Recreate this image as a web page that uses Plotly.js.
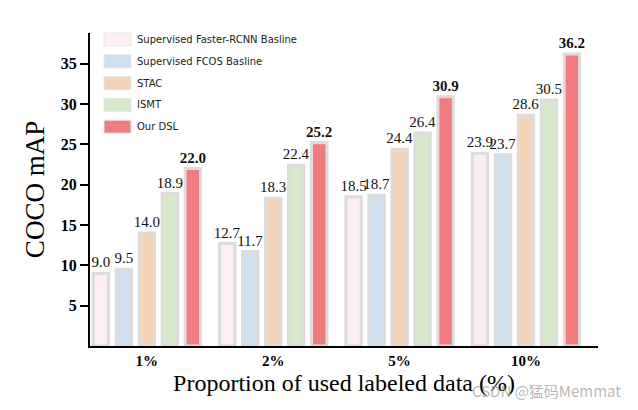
<!DOCTYPE html>
<html>
<head>
<meta charset="utf-8">
<script src="https://cdn.plot.ly/plotly-3.0.1.min.js"></script>
<style>html,body{margin:0;padding:0;background:#fff;}</style>
</head>
<body>
<div id="chart" style="width:638px;height:410px;"></div>
<script>
// ---- data ----
const categories = ['1%', '2%', '5%', '10%'];
const seriesNames = ['Supervised Faster-RCNN Basline', 'Supervised FCOS Basline', 'STAC', 'ISMT', 'Our DSL'];
const fasterRcnn = [9.0, 12.7, 18.5, 23.9];
const fcos = [9.5, 11.7, 18.7, 23.7];
const stac = [14.0, 18.3, 24.4, 28.6];
const ismt = [18.9, 22.4, 26.4, 30.5];
const dsl = [22.0, 25.2, 30.9, 36.2];
const yTickVals = [5, 10, 15, 20, 25, 30, 35];

// ---- styles ----
const seriesValues = [fasterRcnn, fcos, stac, ismt, dsl];
const colors = ['#fdeef4', '#cfdff0', '#f4d3b6', '#d6e7ca', '#f07c80'];
const serif = 'Liberation Serif, Times New Roman, serif';

const traces = seriesValues.map((vals, i) => ({
  type: 'bar',
  name: seriesNames[i],
  x: categories,
  y: vals,
  text: vals.map(v => v.toFixed(1)),
  textposition: 'outside',
  constraintext: 'none',
  cliponaxis: false,
  textfont: {family: serif, size: 15, color: '#111', weight: i === 4 ? 'bold' : 'normal'},
  marker: {color: colors[i], line: {color: '#dcdcdc', width: 3}},
  hoverinfo: 'none'
}));

// custom legend (patches + labels) in paper coords
const px = p => (p - 90) / 508;
const py = p => (346 - p) / 313;
const shapes = [];
const annotations = [];
seriesNames.forEach((n, i) => {
  const cy = 39.5 + i * 21.8;
  shapes.push({type: 'rect', xref: 'paper', yref: 'paper',
    x0: px(104), x1: px(131), y0: py(cy + 6.5), y1: py(cy - 6.5),
    fillcolor: colors[i], line: {color: '#e6e6e6', width: 1}});
  annotations.push({xref: 'paper', yref: 'paper', x: px(135), y: py(cy),
    xanchor: 'left', yanchor: 'middle', showarrow: false, text: n,
    font: {family: 'DejaVu Sans, Verdana, sans-serif', size: 10, color: '#222'}});
});
annotations.push({xref: 'paper', yref: 'paper', x: px(623), y: py(390),
  xanchor: 'right', yanchor: 'middle', showarrow: false, text: 'CSDN @猛码Memmat',
  font: {family: 'Noto Sans CJK SC, sans-serif', size: 15, color: 'rgba(160,160,160,0.75)'}});

const layout = {
  width: 638, height: 410,
  margin: {l: 90, r: 40, t: 33, b: 64},
  paper_bgcolor: '#fff', plot_bgcolor: '#fff',
  barmode: 'group', bargap: 0.09, bargroupgap: 0.33,
  showlegend: false,
  xaxis: {
    type: 'category', range: [-0.45, 3.57],
    showline: true, linecolor: '#000', linewidth: 2, ticks: '',
    showgrid: false, zeroline: false, layer: 'below traces',
    tickfont: {family: serif, size: 15, color: '#000', weight: 'bold'},
    title: {text: 'Proportion of used labeled data (%)', font: {family: serif, size: 24, color: '#000'}, standoff: 6}
  },
  yaxis: {
    range: [0, 38.8], tickvals: yTickVals,
    showline: true, linecolor: '#000', linewidth: 2,
    ticks: 'outside', ticklen: 8, tickwidth: 2, tickcolor: '#000',
    showgrid: false, zeroline: false,
    tickfont: {family: serif, size: 16, color: '#000', weight: 'bold'},
    title: {text: 'COCO mAP', font: {family: serif, size: 27, color: '#000'}, standoff: 8}
  },
  shapes: shapes,
  annotations: annotations
};

Plotly.newPlot('chart', traces, layout, {displayModeBar: false, staticPlot: true});
</script>
</body>
</html>
